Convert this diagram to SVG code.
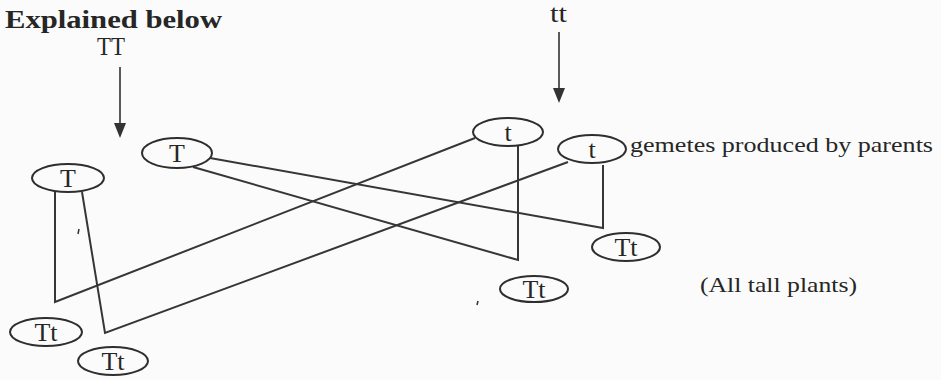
<svg xmlns="http://www.w3.org/2000/svg" width="941" height="380" viewBox="0 0 941 380">
<style>
.bg{fill:#fbfbfb}
.txt{font-family:"Liberation Serif","Times New Roman",serif;fill:#262626}
.node ellipse{fill:none;stroke:#2e2e2e;stroke-width:2}
.node text{font-family:"Liberation Serif","Times New Roman",serif;fill:#262626;font-size:26px;text-anchor:middle}
.conn{fill:none;stroke:#363636;stroke-width:2;stroke-linejoin:miter}
.arrow{stroke:#333;stroke-width:1.6;fill:none}
</style>
<rect class="bg" x="0" y="0" width="941" height="380"/>
<text class="txt" x="5" y="28" font-size="25" font-weight="bold" textLength="217" lengthAdjust="spacingAndGlyphs">Explained below</text>
<text class="txt" id="label-TT" x="97" y="55" font-size="26" textLength="28" lengthAdjust="spacingAndGlyphs">TT</text>
<text class="txt" id="label-tt" x="550" y="22" font-size="25" textLength="17" lengthAdjust="spacingAndGlyphs">tt</text>
<text class="txt" id="label-gametes" x="630" y="152" font-size="22" textLength="303" lengthAdjust="spacingAndGlyphs">gemetes produced by parents</text>
<text class="txt" id="label-tall" x="700" y="292" font-size="22" textLength="157" lengthAdjust="spacingAndGlyphs">(All tall plants)</text>
<g id="connectors">
<line class="arrow" x1="120" y1="67" x2="120" y2="124"/>
<path d="M114,123 L126,123 L120,138 z" fill="#333"/>
<line class="arrow" x1="559" y1="32" x2="559" y2="89"/>
<path d="M553,88 L565,88 L559,103 z" fill="#333"/>
<polyline class="conn" points="55,192 55,302 475,138"/>
<polyline class="conn" points="82,192 105,333 568,162"/>
<polyline class="conn" points="210,158 603,228 603,165"/>
<polyline class="conn" points="193,167 518,260 518,145"/>
</g>
<g id="node-T1" class="node"><ellipse cx="177" cy="153" rx="35" ry="15"/><text x="177" y="162">T</text></g>
<g id="node-T2" class="node"><ellipse cx="68" cy="178" rx="36" ry="14"/><text x="68" y="187">T</text></g>
<g id="node-t1" class="node"><ellipse cx="508" cy="132" rx="35" ry="14"/><text x="508" y="141">t</text></g>
<g id="node-t2" class="node"><ellipse cx="592" cy="149" rx="34" ry="14"/><text x="592" y="158">t</text></g>
<g id="node-Tt1" class="node"><ellipse cx="626" cy="247" rx="34" ry="14"/><text x="626" y="256">Tt</text></g>
<g id="node-Tt2" class="node"><ellipse cx="534" cy="289" rx="34" ry="13"/><text x="534" y="298">Tt</text></g>
<g id="node-Tt3" class="node"><ellipse cx="46" cy="332" rx="36" ry="14"/><text x="46" y="341">Tt</text></g>
<g id="node-Tt4" class="node"><ellipse cx="113" cy="361" rx="35" ry="14"/><text x="113" y="370">Tt</text></g>
<g id="marks" stroke="#333" stroke-width="1.5">
<line x1="79" y1="229" x2="78" y2="234"/>
<line x1="478" y1="301" x2="477" y2="305"/>
</g>
</svg>
